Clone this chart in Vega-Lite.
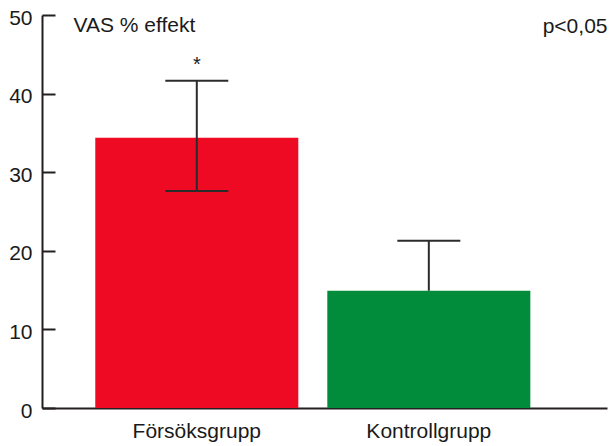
{
  "$schema": "https://vega.github.io/schema/vega-lite/v6.json",
  "width": 565,
  "height": 393,
  "autosize": "none",
  "padding": {"left": 42, "top": 15, "right": 3, "bottom": 38},
  "background": "white",
  "config": {"view": {"stroke": null}, "font": "Liberation Sans"},
  "data": {
    "values": [
      {"group": "Försöksgrupp", "mean": 34.39, "lo": 27.61, "hi": 41.64, "sig": "*"},
      {"group": "Kontrollgrupp", "mean": 14.92, "lo": 14.92, "hi": 21.28, "sig": ""}
    ]
  },
  "encoding": {
    "x": {
      "field": "group",
      "type": "nominal",
      "sort": null,
      "scale": {"paddingInner": 0.125, "paddingOuter": 0.28, "align": 0.41},
      "axis": {
        "title": "p<0,05",
        "titleX": 565,
        "titleY": -376,
        "titleAlign": "right",
        "titleBaseline": "alphabetic",
        "titleFontSize": 21,
        "titleFontWeight": "normal",
        "titleColor": "#1a1a1a",
        "labelAngle": 0,
        "ticks": false,
        "labelPadding": 12,
        "labelFontSize": 21,
        "labelColor": "#1a1a1a",
        "domainColor": "#231f20",
        "domainWidth": 2
      }
    }
  },
  "layer": [
    {
      "mark": {"type": "bar"},
      "encoding": {
        "y": {
          "field": "mean",
          "type": "quantitative",
          "scale": {"domain": [0, 50], "nice": false},
          "axis": {
            "title": "VAS % effekt",
            "titleAngle": 0,
            "titleX": 31,
            "titleY": 16,
            "titleAlign": "left",
            "titleBaseline": "alphabetic",
            "titleFontSize": 21,
            "titleFontWeight": "normal",
            "titleColor": "#1a1a1a",
            "values": [0, 10, 20, 30, 40, 50],
            "grid": false,
            "domainColor": "#231f20",
            "domainWidth": 2,
            "tickColor": "#231f20",
            "tickWidth": 2,
            "tickSize": -13,
            "labelFontSize": 21,
            "labelColor": "#1a1a1a",
            "labelPadding": 23,
            "labelOffset": 3
          }
        },
        "color": {
          "field": "group",
          "type": "nominal",
          "sort": null,
          "scale": {"range": ["#ee0a23", "#008c3a"]},
          "legend": null
        }
      }
    },
    {
      "mark": {"type": "rule", "strokeWidth": 2, "color": "#2b2b2b"},
      "encoding": {
        "y": {"field": "lo", "type": "quantitative"},
        "y2": {"field": "hi"}
      }
    },
    {
      "mark": {"type": "tick", "size": 63, "thickness": 2, "color": "#2b2b2b", "opacity": 1},
      "encoding": {"y": {"field": "hi", "type": "quantitative"}}
    },
    {
      "transform": [{"filter": "datum.lo < datum.mean"}],
      "mark": {"type": "tick", "size": 63, "thickness": 2, "color": "#2b2b2b", "opacity": 1},
      "encoding": {"y": {"field": "lo", "type": "quantitative"}}
    },
    {
      "mark": {"type": "text", "dy": -10, "baseline": "alphabetic", "fontSize": 20, "color": "#1a1a1a"},
      "encoding": {
        "y": {"field": "hi", "type": "quantitative"},
        "text": {"field": "sig"}
      }
    }
  ]
}
